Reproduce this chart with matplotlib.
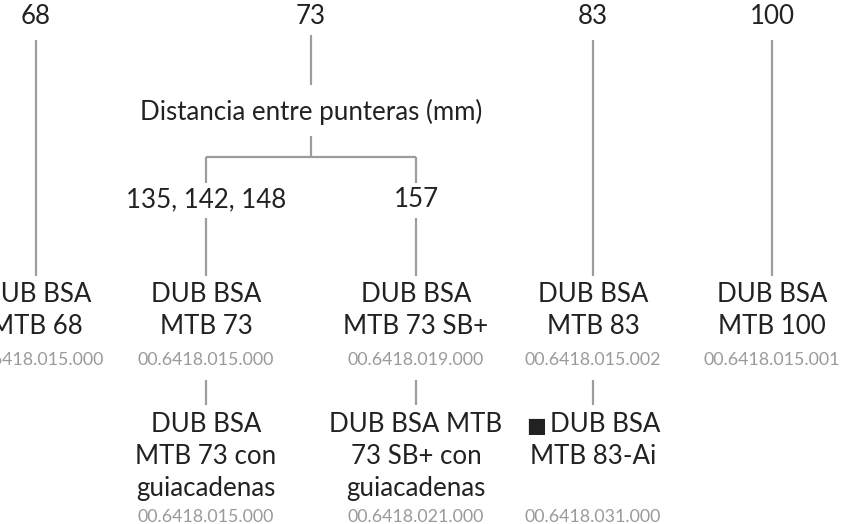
import matplotlib
matplotlib.use("Agg")
import matplotlib.pyplot as plt

plt.rcParams['font.family'] = ['Lato', 'DejaVu Sans']

# datos
anchos = ["68", "73", "83", "100"]
titulo_73 = "Distancia entre punteras (mm)"
punteras_73 = ["135, 142, 148", "157"]
modelos_1 = ["DUB BSA\nMTB 68", "DUB BSA\nMTB 73", "DUB BSA\nMTB 73 SB+",
             "DUB BSA\nMTB 83", "DUB BSA\nMTB 100"]
codigos_1 = ["00.6418.015.000", "00.6418.015.000", "00.6418.019.000",
             "00.6418.015.002", "00.6418.015.001"]
modelos_2 = ["DUB BSA\nMTB 73 con\nguiacadenas", "DUB BSA MTB\n73 SB+ con\nguiacadenas",
             "■ DUB BSA\nMTB 83-Ai"]
codigos_2 = ["00.6418.015.000", "00.6418.021.000", "00.6418.031.000"]

# posiciones (pixeles)
x_ancho = [36, 311, 593, 772]
x_modelo_1 = [36, 206, 416, 593, 772]
x_modelo_2 = [206, 416, 593]
PASO = 32
C_TXT = "#222222"
C_GRIS = "#9a9a9a"
C_LIN = "#9d9d9d"
FS = 18.6
FS_COD = 12.8
LW = 1.6

fig = plt.figure(figsize=(8.46, 5.24), dpi=100)
ax = fig.add_axes([0, 0, 1, 1])
ax.set_xlim(0, 846)
ax.set_ylim(524, 0)
ax.axis("off")
rend = fig.canvas.get_renderer()


def linea(x0, y0, x1, y1):
    ax.plot([x0, x1], [y0, y1], color=C_LIN, lw=LW, solid_capstyle="butt")


def ancho(t):
    return t.get_window_extent(renderer=rend).width


def texto(x, y, s, size=FS, color=C_TXT):
    for i, t in enumerate(s.split("\n")):
        yy = y + i * PASO
        if t.startswith("■ "):
            # cuadrito mas pequeño que el texto
            cu = ax.text(0, yy, "■", ha="left", va="baseline",
                         fontsize=size * 0.82, color=color)
            tx = ax.text(0, yy, t[2:], ha="left", va="baseline",
                         fontsize=size, color=color)
            wc, wt = ancho(cu), ancho(tx)
            izq = x - (wc + 4 + wt) / 2
            cu.set_x(izq)
            tx.set_x(izq + wc + 4)
        else:
            ax.text(x, yy, t, ha="center", va="baseline",
                    fontsize=size, color=color)


# anchos de caja
for x, a in zip(x_ancho, anchos):
    texto(x, 24, a)

for i in (0, 2, 3):
    linea(x_ancho[i], 40, x_ancho[i], 276)

# rama 73
linea(x_ancho[1], 35, x_ancho[1], 85)
texto(x_ancho[1], 120, titulo_73)
linea(x_ancho[1], 136, x_ancho[1], 157)
linea(x_modelo_1[1], 157, x_modelo_1[2], 157)
for x, p in zip(x_modelo_1[1:3], punteras_73):
    linea(x, 157, x, 183)
    texto(x, 207, p)
    linea(x, 218, x, 276)

# nivel 1
for x, m, c in zip(x_modelo_1, modelos_1, codigos_1):
    texto(x, 302, m)
    texto(x, 365, c, size=FS_COD, color=C_GRIS)

# nivel 2
for x, m, c in zip(x_modelo_2, modelos_2, codigos_2):
    linea(x, 380, x, 405)
    texto(x, 432, m)
    texto(x, 522, c, size=FS_COD, color=C_GRIS)

fig.savefig("out.png", dpi=100)
